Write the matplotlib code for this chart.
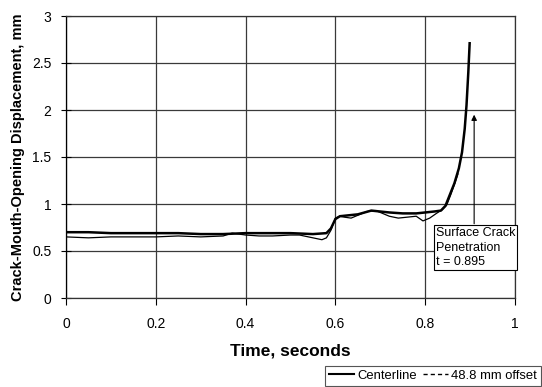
import matplotlib
matplotlib.use("Agg")
import matplotlib.pyplot as plt
from matplotlib.lines import Line2D

plt.rcParams['font.family'] = ['Liberation Sans', 'DejaVu Sans']

# Centerline CMOD (thick line)
t_center = [0, 0.05, 0.1, 0.15, 0.2, 0.25, 0.3, 0.35, 0.4, 0.45, 0.5, 0.55, 0.58,
            0.59, 0.60, 0.61, 0.63, 0.65, 0.68, 0.70, 0.72, 0.75, 0.78, 0.80, 0.82,
            0.835, 0.845, 0.855, 0.865, 0.875, 0.882, 0.888, 0.892, 0.896, 0.899]
cmod_center = [0.70, 0.70, 0.69, 0.69, 0.69, 0.69, 0.68, 0.68, 0.69, 0.69, 0.69, 0.68, 0.69,
               0.74, 0.84, 0.87, 0.88, 0.89, 0.93, 0.92, 0.91, 0.90, 0.90, 0.91, 0.92,
               0.93, 0.98, 1.10, 1.22, 1.38, 1.55, 1.80, 2.05, 2.40, 2.71]

# 48.8 mm offset CMOD (thin line)
t_offset = [0, 0.05, 0.1, 0.15, 0.2, 0.25, 0.3, 0.35, 0.37, 0.40, 0.43, 0.46, 0.50,
            0.52, 0.54, 0.56, 0.57, 0.58, 0.59, 0.60, 0.61, 0.62, 0.635, 0.65, 0.67,
            0.69, 0.70, 0.72, 0.74, 0.76, 0.78, 0.795, 0.81, 0.825, 0.838, 0.848,
            0.857, 0.866, 0.873]
cmod_offset = [0.65, 0.64, 0.65, 0.65, 0.65, 0.66, 0.65, 0.66, 0.69, 0.67, 0.66, 0.66, 0.67,
               0.67, 0.65, 0.63, 0.62, 0.64, 0.72, 0.85, 0.87, 0.86, 0.85, 0.88, 0.92,
               0.93, 0.91, 0.87, 0.85, 0.86, 0.87, 0.82, 0.85, 0.90, 0.94, 0.99,
               1.10, 1.22, 1.32]

x_ticks = [0, 0.2, 0.4, 0.6, 0.8, 1]
x_tick_labels = ['0', '0.2', '0.4', '0.6', '0.8', '1']
y_ticks = [0, 0.5, 1, 1.5, 2, 2.5, 3]
y_tick_labels = ['0', '0.5', '1', '1.5', '2', '2.5', '3']

fig = plt.figure(figsize=(5.42, 3.87), dpi=100)
ax = fig.add_axes([66/542, 1-298/387, (515-66)/542, (298-16)/387])

ax.plot(t_offset, cmod_offset, color='black', lw=0.9)
ax.plot(t_center, cmod_center, color='black', lw=1.8)

ax.set_xlim(0, 1)
ax.set_ylim(0, 3)
ax.set_xticks(x_ticks)
ax.set_xticklabels(x_tick_labels)
ax.set_yticks(y_ticks)
ax.set_yticklabels(y_tick_labels)
ax.grid(True, color='#3a3a3a', lw=0.9)
ax.set_axisbelow(True)
for s in ax.spines.values():
    s.set_color('#333333')
    s.set_linewidth(0.9)
ax.spines['left'].set_color('black')
ax.tick_params(axis='y', direction='inout', length=7, width=0.8, pad=7, labelsize=10)
ax.tick_params(axis='x', direction='out', length=5, width=0.8, pad=9, labelsize=10)

ax.set_xlabel('Time, seconds', fontsize=12.5, fontweight='bold', labelpad=9)
ax.set_ylabel('Crack-Mouth-Opening Displacement, mm', fontsize=10.5, fontweight='bold', labelpad=5)

# annotation
ax.annotate('', xy=(0.909, 1.95), xytext=(0.909, 0.79),
            arrowprops=dict(arrowstyle='-|>', color='black', lw=0.8, mutation_scale=8,
                            shrinkA=0, shrinkB=0))
ax.text(0.823, 0.537, 'Surface Crack\nPenetration\nt = 0.895', fontsize=9,
        ha='left', va='center', linespacing=1.25,
        bbox=dict(boxstyle='square,pad=0.15', facecolor='white', edgecolor='black', lw=0.8))

handles = [Line2D([], [], color='black', lw=1.5),
           Line2D([], [], color='black', lw=1.0, linestyle=(0, (3, 2.2)))]
leg = fig.legend(handles, ['Centerline', '48.8 mm offset'], loc='upper left',
                 bbox_to_anchor=(325/542, 1-366/387), ncol=2, fontsize=9.4,
                 frameon=True, fancybox=False, edgecolor='#555555', framealpha=1,
                 handlelength=1.9, handletextpad=0.25, columnspacing=0.5,
                 borderpad=0.3, borderaxespad=0)
leg.get_frame().set_linewidth(0.8)

fig.savefig('out.png', dpi=100)
